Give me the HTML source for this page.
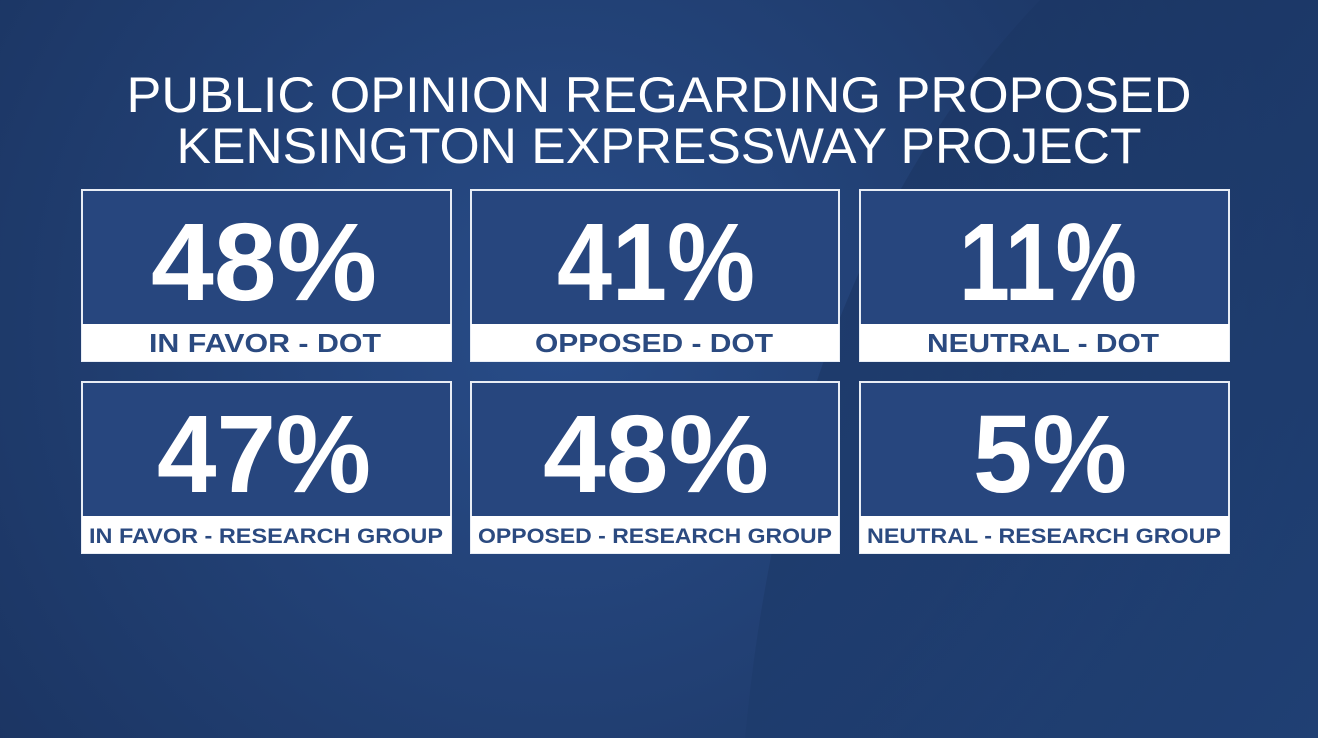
<!DOCTYPE html>
<html><head><meta charset="utf-8"><style>
html,body{margin:0;padding:0;width:1318px;height:738px;overflow:hidden;background:#21406f}
svg{display:block}
</style></head><body>
<svg width="1318" height="738" viewBox="0 0 1318 738" xmlns="http://www.w3.org/2000/svg">
<defs>
<radialGradient id="bg" cx="560" cy="330" r="760" gradientUnits="userSpaceOnUse">
<stop offset="0" stop-color="#284c88"/><stop offset="0.6" stop-color="#203d6f"/><stop offset="1" stop-color="#1a3360"/>
</radialGradient>
<linearGradient id="rt" x1="0" y1="0" x2="1" y2="1">
<stop offset="0" stop-color="#19315c"/><stop offset="1" stop-color="#22457c"/>
</linearGradient>
</defs>
<rect width="1318" height="738" fill="url(#bg)"/>
<path d="M1040 0 Q790 260 745 738 L1318 738 L1318 0 Z" fill="url(#rt)" opacity="0.7"/>
<g font-family="Liberation Sans, sans-serif" fill="#fff" text-anchor="middle">
<text x="659" y="112" font-size="50" textLength="1065" lengthAdjust="spacingAndGlyphs">PUBLIC OPINION REGARDING PROPOSED</text>
<text x="659" y="163" font-size="50" textLength="965" lengthAdjust="spacingAndGlyphs">KENSINGTON EXPRESSWAY PROJECT</text>
</g>
<g stroke="#e8edf5" stroke-width="2" fill="#27467e">
<rect x="82" y="190" width="369" height="171"/><rect x="471" y="190" width="368" height="171"/><rect x="860" y="190" width="369" height="171"/>
<rect x="82" y="382" width="369" height="171"/><rect x="471" y="382" width="368" height="171"/><rect x="860" y="382" width="369" height="171"/>
</g>
<g fill="#ffffff">
<rect x="82" y="324" width="369" height="37"/><rect x="471" y="324" width="368" height="37"/><rect x="860" y="324" width="369" height="37"/>
<rect x="82" y="516" width="369" height="37"/><rect x="471" y="516" width="368" height="37"/><rect x="860" y="516" width="369" height="37"/>
</g>
<g font-family="Liberation Sans, sans-serif" font-weight="bold" fill="#fff" text-anchor="middle" font-size="110">
<text x="264" y="300" textLength="226" lengthAdjust="spacingAndGlyphs">48%</text>
<text x="656" y="300" textLength="198" lengthAdjust="spacingAndGlyphs">41%</text>
<text x="1048" y="300" textLength="178" lengthAdjust="spacingAndGlyphs">11%</text>
<text x="264" y="492" textLength="214" lengthAdjust="spacingAndGlyphs">47%</text>
<text x="656" y="492" textLength="226" lengthAdjust="spacingAndGlyphs">48%</text>
<text x="1050" y="492" textLength="154" lengthAdjust="spacingAndGlyphs">5%</text>
</g>
<g font-family="Liberation Sans, sans-serif" font-weight="bold" fill="#2b4a80" text-anchor="middle">
<text x="265" y="352" font-size="26" textLength="232" lengthAdjust="spacingAndGlyphs">IN FAVOR - DOT</text>
<text x="654" y="352" font-size="26" textLength="238" lengthAdjust="spacingAndGlyphs">OPPOSED - DOT</text>
<text x="1043" y="352" font-size="26" textLength="232" lengthAdjust="spacingAndGlyphs">NEUTRAL - DOT</text>
<text x="266" y="543" font-size="21" textLength="354" lengthAdjust="spacingAndGlyphs">IN FAVOR - RESEARCH GROUP</text>
<text x="655" y="543" font-size="21" textLength="354" lengthAdjust="spacingAndGlyphs">OPPOSED - RESEARCH GROUP</text>
<text x="1044" y="543" font-size="21" textLength="354" lengthAdjust="spacingAndGlyphs">NEUTRAL - RESEARCH GROUP</text>
</g>
</svg>
</body></html>
